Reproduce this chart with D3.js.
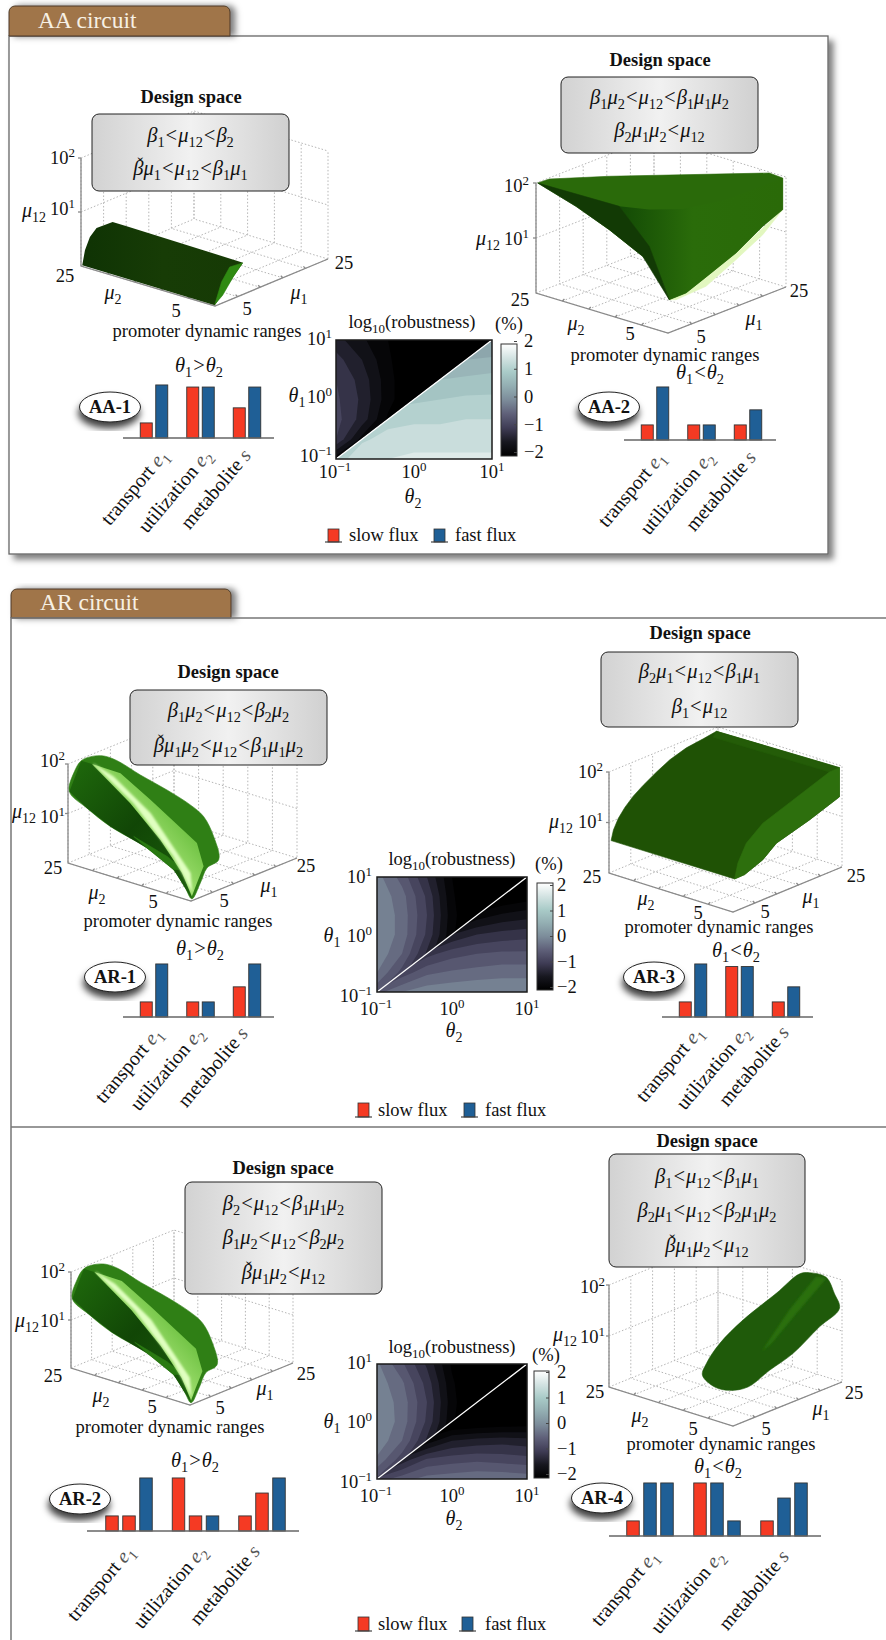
<!DOCTYPE html>
<html>
<head>
<meta charset="utf-8">
<script src="https://cdn.jsdelivr.net/npm/d3@7"></script>
<style>
body { margin: 0; background: #fff; }
svg { display: block; }
text { font-family: "Liberation Serif", serif; fill: #111; }
</style>
</head>
<body>
<svg id="fig" width="886" height="1640"></svg>
<script>
// ---- data ----
const categories = ["transport", "utilization", "metabolite"]
const categoryMath = ["e_1", "e_2", "s"]
const muTicks = [9, 13, 17, 21]
const zTicks = [10, 100]

// bar heights, relative to the tallest level
const barsAA1 = [[0.29, 1.02], [0.98, 0.98], [0.58, 0.98]]
const barsAA2 = [[0.29, 1.02], [0.29, 0.29], [0.29, 0.58]]
const barsAR1 = [[0.29, 1.02], [0.29, 0.29], [0.58, 1.02]]
const barsAR3 = [[0.29, 1.02], [0.97, 0.97], [0.29, 0.58]]
const barsAR2 = [[0.29, 0.29, 1.02], [1.02, 0.29, 0.29], [0.29, 0.73, 1.02]]
const barsAR4 = [[0.29, 1.02, 1.02], [1.02, 1.02, 0.29], [0.29, 0.73, 1.02]]

// log10(robustness) on a 7x7 grid, rows from theta1=10 to 0.1, columns from theta2=0.1 to 10
const heatAAUpper = [
  [-1.4, -1.7, -2.0, -2.3, -2.5, -2.5, -2.5],
  [-1.15, -1.5, -1.95, -2.3, -2.5, -2.5, -2.5],
  [-1.0, -1.35, -1.9, -2.3, -2.5, -2.5, -2.5],
  [-0.95, -1.3, -1.9, -2.3, -2.5, -2.5, -2.5],
  [-0.9, -1.35, -2.05, -2.4, -2.5, -2.5, -2.5],
  [-1.0, -1.85, -2.3, -2.5, -2.5, -2.5, -2.5],
  [-1.9, -2.3, -2.5, -2.5, -2.5, -2.5, -2.5]]
const heatAALower = [
  [0.2, 0.2, 0.2, 0.2, 0.2, 0.2, 0.2],
  [0.5, 0.5, 0.5, 0.5, 0.5, 0.5, 0.55],
  [0.75, 0.75, 0.75, 0.75, 0.75, 0.8, 0.85],
  [0.9, 0.9, 0.9, 0.95, 1.0, 1.05, 1.05],
  [1.1, 1.1, 1.15, 1.2, 1.2, 1.25, 1.25],
  [1.2, 1.2, 1.35, 1.4, 1.4, 1.4, 1.4],
  [1.1, 1.45, 1.5, 1.55, 1.55, 1.55, 1.55]]
const heatARTopUpper = [
  [-0.15, -0.6, -1.25, -2.0, -2.4, -2.5, -2.5],
  [-0.05, -0.4, -1.05, -1.95, -2.4, -2.5, -2.5],
  [0.0, -0.35, -1.0, -1.9, -2.4, -2.5, -2.5],
  [0.0, -0.35, -1.05, -1.95, -2.4, -2.5, -2.5],
  [-0.05, -0.5, -1.3, -2.1, -2.4, -2.5, -2.5],
  [-0.25, -0.85, -1.8, -2.3, -2.5, -2.5, -2.5],
  [-0.7, -1.7, -2.2, -2.4, -2.5, -2.5, -2.5]]
const heatARTopLower = [
  [-2.5, -2.5, -2.5, -2.5, -2.5, -2.5, -2.5],
  [-2.5, -2.5, -2.5, -2.5, -2.5, -2.3, -2.15],
  [-2.5, -2.5, -2.5, -2.5, -1.9, -1.7, -1.6],
  [-2.5, -2.5, -2.4, -1.5, -1.25, -1.15, -1.1],
  [-2.5, -1.9, -1.1, -0.85, -0.75, -0.7, -0.7],
  [-1.6, -0.9, -0.55, -0.45, -0.4, -0.35, -0.35],
  [-0.6, -0.25, -0.1, -0.05, 0, 0, 0]]
const heatARBotUpper = [
  [-0.2, -0.7, -1.3, -2.05, -2.4, -2.5, -2.5],
  [-0.1, -0.45, -1.1, -1.95, -2.4, -2.5, -2.5],
  [-0.05, -0.35, -1.0, -1.9, -2.4, -2.5, -2.5],
  [0.0, -0.35, -1.05, -1.95, -2.4, -2.5, -2.5],
  [-0.05, -0.5, -1.3, -2.1, -2.4, -2.5, -2.5],
  [-0.3, -0.9, -1.85, -2.3, -2.5, -2.5, -2.5],
  [-0.8, -1.75, -2.2, -2.4, -2.5, -2.5, -2.5]]
const heatARBotLower = [
  [-2.5, -2.5, -2.5, -2.5, -2.5, -2.5, -2.5],
  [-2.5, -2.5, -2.5, -2.5, -2.5, -2.5, -2.5],
  [-2.5, -2.5, -2.5, -2.5, -2.5, -2.5, -2.5],
  [-2.5, -2.5, -2.5, -2.4, -2.3, -2.25, -2.2],
  [-2.5, -2.5, -1.9, -1.5, -1.4, -1.35, -1.4],
  [-2.4, -1.4, -0.95, -0.85, -0.8, -0.85, -0.9],
  [-0.9, -0.6, -0.4, -0.35, -0.3, -0.3, -0.35]]

// design-space solids as seen in the plot plane: [% of plot width, % of z axis height]
const aa1Body = [[0.5,0.6],[1.6,14.5],[3.6,26.9],[6.3,35.2],[12.8,40.7],[18.5,36.7],[65.6,3.1],[61.6,-10.2],[57.3,-25.6],[54.2,-36.4]]
const aa1Cap = [[65.4,2.8],[60.2,-0.9],[56.9,-14.8],[54.2,-35.5],[57.3,-27.2],[61.6,-10.2]]
const aa2Fringe = [[98.7,75.8],[90.7,53],[80,30.3],[68,6.1],[56,-6.1],[53.3,-6.1],[80,36.4]]
const aa2Body = [[0.7,100],[5.3,103.6],[29.3,106.1],[93.3,109.1],[98.7,104.5],[98.7,75.8],[90.7,60.6],[80,36.4],[66.7,12.1],[60,0],[53.3,-6.1],[50.7,9.1],[42.7,33.3],[29.3,57.6],[16,78.8]]
const aa2Front = [[33.3,78.8],[45.3,75.8],[58.7,76.4],[76,84.8],[98.7,104.5],[98.7,75.8],[90.7,60.6],[80,36.4],[66.7,12.1],[60,0],[53.3,-6.1],[45.3,42.4]]
const aa2Inner = [[0.7,100],[33.3,78.8],[45.3,42.4],[53.3,-6.1],[42.7,33.3],[29.3,57.6],[16,78.8]]
const arBody = [[0.6,72.1],[2.8,92.3],[5.8,103.4],[10.5,107.7],[15.6,108.1],[21.4,103.4],[31.6,88.9],[43.2,73.8],[53.4,58.7],[59.2,47],[63.6,26.8],[65.8,3.4],[60.7,-5],[57.8,-20.1],[54.1,-36.2],[51.2,-25.2],[46.1,-6.7],[34.5,15.1],[18.5,36.9],[8.3,55.4]]
const arLower = [[0.6,72.1],[5.8,103.4],[10.5,100],[27.2,60.4],[40.3,23.5],[49.8,-6.7],[54.1,-36.2],[46.1,-6.7],[34.5,15.1],[18.5,36.9],[8.3,55.4]]
const arEdge = [[28.7,26.8],[43.2,6.7],[50.5,-6.7],[46.1,-6.7],[34.5,15.1]]
const arFace = [[10.5,100],[22.9,90.6],[36,63.8],[56.3,20.1],[59.2,-3.4],[56.3,-20.1],[54.1,-33.6],[49.8,-10.1],[40.3,23.5],[27.2,60.4]]
const arStreak = [[11.2,100],[19.9,87.2],[36,50.3],[53.4,-10.1],[54.1,-28.5],[46.1,6.7],[28.7,60.4]]
const ar3Body = [[0.9,32.1],[1.9,42.6],[4,54.1],[6.8,64.9],[10.4,76.1],[14.7,86.9],[20.4,100],[26.1,112.1],[33.2,123.9],[40.4,132.8],[46.1,140.3],[98.9,104.3],[98.9,75.4],[86,52.5],[71.8,29.5],[66,13.1],[58.2,-1.6],[53.9,-5.9]]
const ar3Side = [[98.9,104.3],[94.6,100],[78.9,72.1],[66,49.2],[58.9,29.5],[55.3,9.8],[53.9,-5.9],[58.2,-1.6],[66,13.1],[71.8,29.5],[86,52.5],[98.9,75.4]]
const ar3Rim = [[46.1,140.3],[98.9,104.3],[94.6,100],[44.7,134.4]]
const ar4Body = [[40.1,11.5],[41.8,23],[47.5,42.6],[57.5,65.6],[71.8,91.8],[81.7,110.8],[86,112.1],[93.2,107.5],[96.7,91.8],[98.9,77],[90.3,59],[78.9,32.8],[68.9,16.4],[59.6,0],[51.8,-3.3],[45.4,0]]
const ar4Streak = [[88.9,108.2],[77.5,75.4],[66,36.1],[69.6,42.6],[80.3,72.1],[93.2,106.6]]

const cmapStops = [-2, -1.5, -1, -0.5, 0, 0.5, 1, 1.5, 2]
const cmapColors = ["#000000", "#17171f", "#3f3c55", "#5f6079", "#7c8c9a", "#93aeb2", "#a9cbc8", "#d3e3e2", "#ffffff"]
const cbarTicks = [2, 1, 0, -1, -2]

// ---- layout ----
const panels = [
  {badge: "AA-1", cond: "θ_1>θ_2", L: [81, 266], F: [215, 306], R: [328, 259], top: 158,
   eqs: ["β_1<μ_{12}<β_2", "β̌μ_1<μ_{12}<β_1μ_1"], box: [92, 114, 289, 191], eqY: [142, 175], title: [191, 103],
   lab: {z2: [75, 164], z1: [75, 215], zt: [34, 217], a25: [65, 282], a5: [176, 317], b5: [247, 315], b25: [344, 269], m2: [113, 299], m1: [299, 299], prom: [207, 337]},
   bars: barsAA1, kinds: ["slow", "fast"], base: 438, axis: [123, 274], centers: [154, 247], barStep: 15.5, barW: 12, condPos: [199, 372],
   badgePos: [110, 407], catDx: [15, 12, 5], catDy: 18,
   solids: [[aa1Body, "url(#gDarkA)"], [aa1Cap, "#2f8a12"]]},
  {badge: "AA-2", cond: "θ_1<θ_2", L: [536, 293], F: [668, 333], R: [786, 287], top: 183,
   eqs: ["β_1μ_2<μ_{12}<β_1μ_1μ_2", "β_2μ_1μ_2<μ_{12}"], box: [561, 77, 758, 153], eqY: [104, 137], title: [660, 66],
   lab: {z2: [529, 192], z1: [529, 245], zt: [488, 245], a25: [520, 306], a5: [630, 340], b5: [701, 343], b25: [799, 297], m2: [576, 330], m1: [754, 325], prom: [665, 361]},
   bars: barsAA2, kinds: ["slow", "fast"], base: 440, axis: [624, 776], centers: [655, 748], barStep: 15.5, barW: 12, condPos: [700, 379],
   badgePos: [609, 407], catDx: [11, 13, 9], catDy: 18,
   solids: [[aa2Fringe, "#e2f7bf"], [aa2Body, "#2a6a0a"], [aa2Front, "url(#gFront)"], [aa2Inner, "#123a05"]]},
  {badge: "AR-1", cond: "θ_1>θ_2", L: [68, 863], F: [191, 901], R: [297, 858], top: 764,
   eqs: ["β_1μ_2<μ_{12}<β_2μ_2", "β̌μ_1μ_2<μ_{12}<β_1μ_1μ_2"], box: [130, 690, 327, 765], eqY: [717, 752], title: [228, 678],
   lab: {z2: [65, 767], z1: [65, 823], zt: [24, 818], a25: [53, 874], a5: [153, 908], b5: [224, 907], b25: [306, 872], m2: [97, 899], m1: [269, 892], prom: [178, 927]},
   bars: barsAR1, kinds: ["slow", "fast"], base: 1017, axis: [123, 274], centers: [154, 247], barStep: 15.5, barW: 12, condPos: [200, 955],
   badgePos: [115, 977], catDx: [9, 4, 2], catDy: 17,
   solids: [[arBody, "#2f7f15", "smooth"], [arLower, "url(#gDarkB)"], [arEdge, "#2a7a12"], [arFace, "url(#gLight)"], [arStreak, "#e0ffc0", "soft"]]},
  {badge: "AR-3", cond: "θ_1<θ_2", L: [609, 873], F: [733, 912], R: [842, 867], top: 772,
   eqs: ["β_2μ_1<μ_{12}<β_1μ_1", "β_1<μ_{12}"], box: [601, 652, 798, 727], eqY: [678, 713], title: [700, 639],
   lab: {z2: [603, 778], z1: [603, 828], zt: [561, 828], a25: [592, 883], a5: [698, 919], b5: [765, 918], b25: [856, 882], m2: [646, 905], m1: [811, 903], prom: [719, 933]},
   bars: barsAR3, kinds: ["slow", "fast"], base: 1017, axis: [662, 813], centers: [693, 786], barStep: 15.5, barW: 12, condPos: [736, 957],
   badgePos: [654, 977], catDx: [11, 11, 4], catDy: 16,
   solids: [[ar3Body, "#1f5205"], [ar3Rim, "#245c08"], [ar3Side, "#2d6f0d"]]},
  {badge: "AR-2", cond: "θ_1>θ_2", L: [71, 1368], F: [190, 1405], R: [293, 1363], top: 1272,
   eqs: ["β_2<μ_{12}<β_1μ_1μ_2", "β_1μ_2<μ_{12}<β_2μ_2", "β̌μ_1μ_2<μ_{12}"], box: [185, 1182, 382, 1294], eqY: [1210, 1244, 1279], title: [283, 1174],
   lab: {z2: [65, 1278], z1: [65, 1327], zt: [27, 1327], a25: [53, 1382], a5: [152, 1413], b5: [220, 1414], b25: [306, 1380], m2: [101, 1402], m1: [265, 1395], prom: [170, 1433]},
   bars: barsAR2, kinds: ["slow", "slow", "fast"], base: 1531, axis: [87, 299], centers: [129, 262], barStep: 17, barW: 12.5, condPos: [195, 1467],
   badgePos: [80, 1499], catDx: [6, 12, -1], catDy: 21,
   solids: [[arBody, "#2f7f15", "smooth"], [arLower, "url(#gDarkB)"], [arEdge, "#2a7a12"], [arFace, "url(#gLight)"], [arStreak, "#e0ffc0", "soft"]]},
  {badge: "AR-4", cond: "θ_1<θ_2", L: [609, 1387], F: [733, 1426], R: [842, 1382], top: 1285,
   eqs: ["β_1<μ_{12}<β_1μ_1", "β_2μ_1<μ_{12}<β_2μ_1μ_2", "β̌μ_1μ_2<μ_{12}"], box: [609, 1154, 805, 1267], eqY: [1183, 1217, 1252], title: [707, 1147],
   lab: {z2: [605, 1293], z1: [605, 1343], zt: [565, 1341], a25: [595, 1398], a5: [693, 1435], b5: [766, 1435], b25: [854, 1399], m2: [640, 1422], m1: [821, 1415], prom: [721, 1450]},
   bars: barsAR4, kinds: ["slow", "fast", "fast"], base: 1536, axis: [609, 821], centers: [650, 784], barStep: 17, barW: 12.5, condPos: [718, 1473],
   badgePos: [602, 1498], catDx: [9, 8, 6], catDy: 21,
   solids: [[ar4Body, "#1f5a0a", "smooth"], [ar4Streak, "#2a6f10", "soft"]]}
]

const heats = [
  {left: 336, right: 492, top: 340, bottom: 459, upper: heatAAUpper, lower: heatAALower,
   cbar: [501, 517, 344, 456], cbarRange: [452, 341], cbarLabelX: 524, title: [412, 328], pct: [509, 330],
   yLabelX: 332, yBase: [345, 403, 462], theta1: [297, 402], xBase: 478, theta2: [413, 503],
   legend: {y: 529, h: 13, red: 328, blue: 434, slowX: 349, fastX: 455}},
  {left: 377, right: 527, top: 877, bottom: 992, upper: heatARTopUpper, lower: heatARTopLower,
   cbar: [537, 553, 883, 990], cbarRange: [987, 885], cbarLabelX: 557, title: [452, 865], pct: [549, 870],
   yLabelX: 372, yBase: [883, 942, 1002], theta1: [332, 942], xBase: 1015, theta2: [454, 1037],
   legend: {y: 1103, h: 14, red: 358, blue: 464, slowX: 378, fastX: 485}},
  {left: 377, right: 527, top: 1364, bottom: 1479, upper: heatARBotUpper, lower: heatARBotLower,
   cbar: [534, 549, 1371, 1478], cbarRange: [1474, 1372], cbarLabelX: 557, title: [452, 1353], pct: [546, 1361],
   yLabelX: 372, yBase: [1369, 1428, 1488], theta1: [332, 1428], xBase: 1502, theta2: [454, 1525],
   legend: {y: 1617, h: 14, red: 358, blue: 462, slowX: 378, fastX: 485}}
]

const FS = 18.5
const barColor = {slow: "#f53a23", fast: "#1f5f96"}
const svg = d3.select("#fig")
const defs = svg.append("defs")

function gradient(id, stops, x2, y2, y1) {
  const g = defs.append("linearGradient").attr("id", id)
    .attr("x1", 0).attr("y1", y1 || 0).attr("x2", x2).attr("y2", y2)
  stops.forEach(s => g.append("stop").attr("offset", s[0]).attr("stop-color", s[1]))
}
gradient("gBox", [[0, "#d2d2d2"], [0.5, "#f1f1f1"], [1, "#d0d0d0"]], 1, 0)
gradient("gDarkA", [[0, "#0f3304"], [0.5, "#173c06"], [1, "#163a05"]], 1, 0)
gradient("gDarkB", [[0, "#1f6a0c"], [0.5, "#114606"], [1, "#1c5f0c"]], 1, 1)
gradient("gLight", [[0, "#b8f08a"], [0.45, "#a0e070"], [0.7, "#6cc040"], [1, "#4fa52a"]], 1, 0, 1)
gradient("gFront", [[0, "#134a05"], [0.45, "#2a6c0a"], [1, "#2a6a08"]], 1, 0)

function shadow(id, dx, dy, blur, op) {
  defs.append("filter").attr("id", id)
    .attr("x", "-20%").attr("y", "-20%").attr("width", "150%").attr("height", "150%")
    .append("feDropShadow").attr("dx", dx).attr("dy", dy).attr("stdDeviation", blur)
    .attr("flood-color", "#000").attr("flood-opacity", op)
}
shadow("frameShadow", 5, 5, 3, 0.5)
shadow("tabShadow", 5, 0, 3, 0.5)
shadow("badgeShadow", -1, 6, 3.5, 0.75)
defs.append("filter").attr("id", "soft").append("feGaussianBlur").attr("stdDeviation", 1.2)

// small TeX-like writer: _ and ^ make scripts, greek and latin letters go italic
// the caron over beta is written as its own glyph, the font misplaces the combining one
function addMath(t, str, size, fill) {
  const re = /([_^])(\{[^}]*\}|.)|(.[\u0300-\u036f]?)/gu
  let shift = 0, pendingDx = 0, m
  while ((m = re.exec(str))) {
    const span = t.append("tspan")
    if (fill) span.style("fill", fill)
    let dy
    if (m[1]) {
      const off = m[1] === "_" ? 0.26 * size : -0.4 * size
      dy = off - shift
      shift = off
      span.attr("font-size", size * 0.7).text(m[2].replace(/[{}]/g, ""))
    } else {
      dy = -shift
      shift = 0
      const ch = m[3]
      const hasCaron = ch.length > 1
      span.attr("font-size", size)
        .attr("font-style", /[a-zα-ω]/i.test(ch) ? "italic" : "normal").text(ch[0])
      if (ch === "<" || ch === ">") {
        span.attr("dx", 1 + pendingDx)
        pendingDx = 1
      } else if (pendingDx) {
        span.attr("dx", pendingDx)
        pendingDx = 0
      }
      if (hasCaron) {
        t.append("tspan").attr("font-size", size * 0.8)
          .attr("dx", -0.3 * size).attr("dy", -0.27 * size).text("ˇ")
        shift = -0.27 * size
        pendingDx = 0.034 * size
      }
    }
    if (dy) span.attr("dy", dy)
  }
  return t
}
function mathLabel(g, str, pos, anchor, size) {
  const t = g.append("text").attr("x", pos[0]).attr("y", pos[1]).attr("text-anchor", anchor || "middle")
  return addMath(t, str, size || FS)
}

// ---- frames ----
function tabPath(x0, x1, y0, y1) {
  const p = d3.path()
  p.moveTo(x0, y1)
  p.lineTo(x0, y0 + 6)
  p.arcTo(x0, y0, x0 + 6, y0, 6)
  p.lineTo(x1 - 6, y0)
  p.arcTo(x1, y0, x1, y0 + 6, 6)
  p.lineTo(x1, y1)
  p.closePath()
  return p.toString()
}
function drawTab(name, x0, x1, y0, y1) {
  svg.append("path").attr("d", tabPath(x0, x1, y0, y1))
    .attr("fill", "#a0744a").attr("stroke", "#4d3b28").attr("filter", "url(#tabShadow)")
  svg.append("text").attr("x", x0 + 29).attr("y", y1 - 8).attr("font-size", 23.5)
    .style("fill", "#f7f0e4").text(name)
}
svg.append("rect").attr("x", 9).attr("y", 36).attr("width", 819).attr("height", 518)
  .attr("fill", "#fff").attr("stroke", "#666").attr("stroke-width", 1.3).attr("filter", "url(#frameShadow)")
drawTab("AA circuit", 9, 230, 6, 36)
drawTab("AR circuit", 11, 231, 589, 618)
svg.append("path").attr("d", "M11,1640V618H886M11,1127H886").attr("fill", "none")
  .attr("stroke", "#777").attr("stroke-width", 1.5)

// ---- one design-space panel ----
function drawPlot3d(g, p) {
  const t1 = d3.scaleLinear().domain([5, 25]).range([0, 1])
  const t2 = d3.scaleLinear().domain([5, 25]).range([1, 0])
  const tz = d3.scaleLog().domain([1, 100]).range([0, 1])
  const project = (mu1, mu2, z) => [
    p.L[0] + t2(mu2) * (p.F[0] - p.L[0]) + t1(mu1) * (p.R[0] - p.F[0]),
    p.L[1] + t2(mu2) * (p.F[1] - p.L[1]) + t1(mu1) * (p.R[1] - p.F[1]) - tz(z) * (p.L[1] - p.top)
  ]
  const seg = pts => d3.line()(pts)
  const grid = g.append("g").attr("fill", "none").attr("stroke", "#b5b5b5").attr("stroke-dasharray", "1.5 2")
  const all = [5].concat(muTicks, [25])
  all.forEach(m => {
    grid.append("path").attr("d", seg([project(m, 5, 1), project(m, 25, 1), project(m, 25, 100)]))
    grid.append("path").attr("d", seg([project(5, m, 1), project(25, m, 1), project(25, m, 100)]))
  })
  zTicks.forEach(z => {
    grid.append("path").attr("d", seg([project(5, 25, z), project(25, 25, z), project(25, 5, z)]))
  })
  const ax = g.append("g").attr("fill", "none").attr("stroke", "#8a8a8a").attr("stroke-width", 1.3)
  ax.append("path").attr("d", seg([project(5, 25, 100), project(5, 25, 1), project(5, 5, 1), project(25, 5, 1)]))
  muTicks.forEach(m => {
    const a = project(5, m, 1), b = project(m, 5, 1)
    ax.append("path").attr("d", seg([a, [a[0] + 2, a[1] - 2]]))
    ax.append("path").attr("d", seg([b, [b[0] - 2, b[1] - 2]]))
  })
  zTicks.forEach(z => {
    const a = project(5, 25, z)
    ax.append("path").attr("d", seg([a, [a[0] - 3, a[1]]]))
  })
  // solids
  const sx = d3.scaleLinear().domain([0, 100]).range([p.L[0], p.R[0]])
  const sy = d3.scaleLinear().domain([0, 100]).range([p.L[1], p.top])
  const poly = d3.line().x(d => sx(d[0])).y(d => sy(d[1])).curve(d3.curveLinearClosed)
  const smooth = d3.line().x(d => sx(d[0])).y(d => sy(d[1])).curve(d3.curveCatmullRomClosed.alpha(0.5))
  p.solids.forEach(s => {
    const path = g.append("path").attr("d", s[2] === "smooth" ? smooth(s[0]) : poly(s[0])).attr("fill", s[1])
      .attr("stroke", s[1].startsWith("url") ? "none" : s[1]).attr("stroke-width", 0.6).attr("stroke-linejoin", "round")
    if (s[2] === "soft") path.attr("filter", "url(#soft)")
  })
  const L = p.lab
  mathLabel(g, "10^2", L.z2, "end")
  mathLabel(g, "10^1", L.z1, "end")
  mathLabel(g, "μ_{12}", L.zt, "middle", 20)
  mathLabel(g, "25", L.a25)
  mathLabel(g, "5", L.a5)
  mathLabel(g, "5", L.b5)
  mathLabel(g, "25", L.b25)
  mathLabel(g, "μ_2", L.m2, "middle", 20)
  mathLabel(g, "μ_1", L.m1, "middle", 20)
  g.append("text").attr("x", L.prom[0]).attr("y", L.prom[1]).attr("text-anchor", "middle")
    .attr("font-size", FS).text("promoter dynamic ranges")
}

function drawBars(g, p) {
  const x0 = d3.scalePoint().domain(categories).range(p.centers)
  const inner = d3.range(p.kinds.length)
  const half = (p.kinds.length - 1) / 2 * p.barStep
  const x1 = d3.scalePoint().domain(inner).range([-half, half])
  const y = d3.scaleLinear().domain([0, 1]).range([p.base, p.base - 52])
  const group = g.selectAll(".grp").data(categories).join("g")
    .attr("transform", d => `translate(${x0(d)},0)`)
  group.selectAll("rect").data((d, i) => p.bars[i]).join("rect")
    .attr("x", (d, i) => x1(i) - p.barW / 2)
    .attr("y", d => y(d))
    .attr("width", p.barW)
    .attr("height", d => y(0) - y(d))
    .attr("fill", (d, i) => barColor[p.kinds[i]])
    .attr("stroke", "#333").attr("stroke-width", 0.9)
  g.append("line").attr("x1", p.axis[0]).attr("x2", p.axis[1]).attr("y1", p.base).attr("y2", p.base)
    .attr("stroke", "#666").attr("stroke-width", 1.3)
  categories.forEach((c, i) => {
    const t = g.append("text").attr("text-anchor", "end").attr("font-size", 20)
      .attr("transform", `translate(${x0(c) + p.catDx[i]},${p.base + p.catDy}) rotate(-50)`)
    t.append("tspan").text(c + " ")
    addMath(t, categoryMath[i], 20, "#555")
  })
  mathLabel(g, p.cond, p.condPos, "middle", 20.5)
  g.append("ellipse").attr("cx", p.badgePos[0]).attr("cy", p.badgePos[1]).attr("rx", 30.5).attr("ry", 15)
    .attr("fill", "#fff").attr("stroke", "#222").attr("stroke-width", 1).attr("filter", "url(#badgeShadow)")
  g.append("text").attr("x", p.badgePos[0]).attr("y", p.badgePos[1] + 6).attr("text-anchor", "middle")
    .attr("font-size", FS).attr("font-weight", "bold").text(p.badge)
}

function drawEquations(g, p) {
  const b = p.box
  g.append("rect").attr("x", b[0]).attr("y", b[1]).attr("width", b[2] - b[0]).attr("height", b[3] - b[1])
    .attr("rx", 7).attr("fill", "url(#gBox)").attr("stroke", "#222").attr("stroke-width", 1)
  p.eqs.forEach((e, i) => mathLabel(g, e, [(b[0] + b[2]) / 2, p.eqY[i]], "middle", 20.5))
  g.append("text").attr("x", p.title[0]).attr("y", p.title[1]).attr("text-anchor", "middle")
    .attr("font-size", FS).attr("font-weight", "bold").text("Design space")
}

panels.forEach(p => {
  const g = svg.append("g")
  drawPlot3d(g, p)
  drawEquations(g, p)
  drawBars(g, p)
})

// ---- robustness maps ----
const color = d3.scaleLinear().domain(cmapStops).range(cmapColors)
const levels = d3.range(-2, 2, 0.25)
const contours = d3.contours().size([7, 7]).thresholds(levels)

gradient("gCbar", cmapStops.slice().reverse().map((v, i) => [i / (cmapStops.length - 1), color(v)]), 0, 1)

heats.forEach((h, hi) => {
  const g = svg.append("g")
  const x = d3.scaleLog().domain([0.1, 10]).range([h.left, h.right])
  const y = d3.scaleLog().domain([0.1, 10]).range([h.bottom, h.top])
  const gx = d3.scaleLinear().domain([0.5, 6.5]).range([h.left, h.right])
  const gy = d3.scaleLinear().domain([0.5, 6.5]).range([h.top, h.bottom])
  const geo = d3.geoPath(d3.geoTransform({point(a, b) { this.stream.point(gx(a), gy(b)) }}))

  const tri = {
    upper: [[0.1, 0.1], [0.1, 10], [10, 10]],
    lower: [[0.1, 0.1], [10, 0.1], [10, 10]]
  }
  Object.keys(tri).forEach(k => {
    const id = "clip" + hi + k
    defs.append("clipPath").attr("id", id).append("path")
      .attr("d", d3.line().x(d => x(d[0])).y(d => y(d[1]))(tri[k]) + "Z")
    const part = g.append("g").attr("clip-path", `url(#${id})`)
    part.append("rect").attr("x", h.left).attr("y", h.top)
      .attr("width", h.right - h.left).attr("height", h.bottom - h.top).attr("fill", "#000")
    part.selectAll("path").data(contours(h[k].flat())).join("path")
      .attr("d", geo).attr("fill", d => color(d.value + 0.125))
  })
  g.append("line").attr("x1", x(0.1)).attr("y1", y(0.1)).attr("x2", x(10)).attr("y2", y(10))
    .attr("stroke", "#fff").attr("stroke-width", 1.3)
  g.append("rect").attr("x", h.left).attr("y", h.top)
    .attr("width", h.right - h.left).attr("height", h.bottom - h.top)
    .attr("fill", "none").attr("stroke", "#1a1a1a").attr("stroke-width", 1.5)

  const xTickText = ["10^{−1}", "10^0", "10^1"]
  const yTickText = ["10^1", "10^0", "10^{−1}"]
  xTickText.forEach((s, i) => {
    mathLabel(g, s, [x([0.1, 1, 10][i]) + [-1, 0, 0][i], h.xBase])
  })
  yTickText.forEach((s, i) => {
    mathLabel(g, s, [h.yLabelX, h.yBase[i]], "end")
  })
  mathLabel(g, "θ_1", h.theta1, "middle", 20)
  mathLabel(g, "θ_2", h.theta2, "middle", 20)
  mathLabel(g, "log_{10}(robustness)", h.title)
    .selectAll("tspan").attr("font-style", "normal")
  mathLabel(g, "(%)", h.pct)

  // colour bar
  const c = h.cbar
  g.append("rect").attr("x", c[0]).attr("y", c[2]).attr("width", c[1] - c[0]).attr("height", c[3] - c[2])
    .attr("fill", "url(#gCbar)").attr("stroke", "#333")
  const cs = d3.scaleLinear().domain([-2, 2]).range(h.cbarRange)
  const cAxis = g.append("g").attr("transform", `translate(${c[1]},0)`)
    .call(d3.axisRight(cs).tickValues(cbarTicks).tickSize(-3).tickPadding(h.cbarLabelX - c[1])
      .tickFormat(d => d < 0 ? "−" + Math.abs(d) : d))
  cAxis.select(".domain").remove()
  cAxis.selectAll("text").attr("font-size", FS)
  cAxis.attr("font-family", null)
  cAxis.selectAll("line").attr("stroke", "#444")

  // legend
  const l = h.legend
  const swatch = [["slow", l.red, l.slowX, "slow flux"], ["fast", l.blue, l.fastX, "fast flux"]]
  swatch.forEach(s => {
    g.append("rect").attr("x", s[1]).attr("y", l.y).attr("width", 11).attr("height", l.h)
      .attr("fill", barColor[s[0]]).attr("stroke", "#333").attr("stroke-width", 0.8)
    g.append("line").attr("x1", s[1] - 3).attr("x2", s[1] + 14).attr("y1", l.y + l.h).attr("y2", l.y + l.h)
      .attr("stroke", "#444").attr("stroke-width", 1.2)
    g.append("text").attr("x", s[2]).attr("y", l.y + l.h - 1).attr("font-size", FS).text(s[3])
  })
})
</script>
</body>
</html>
